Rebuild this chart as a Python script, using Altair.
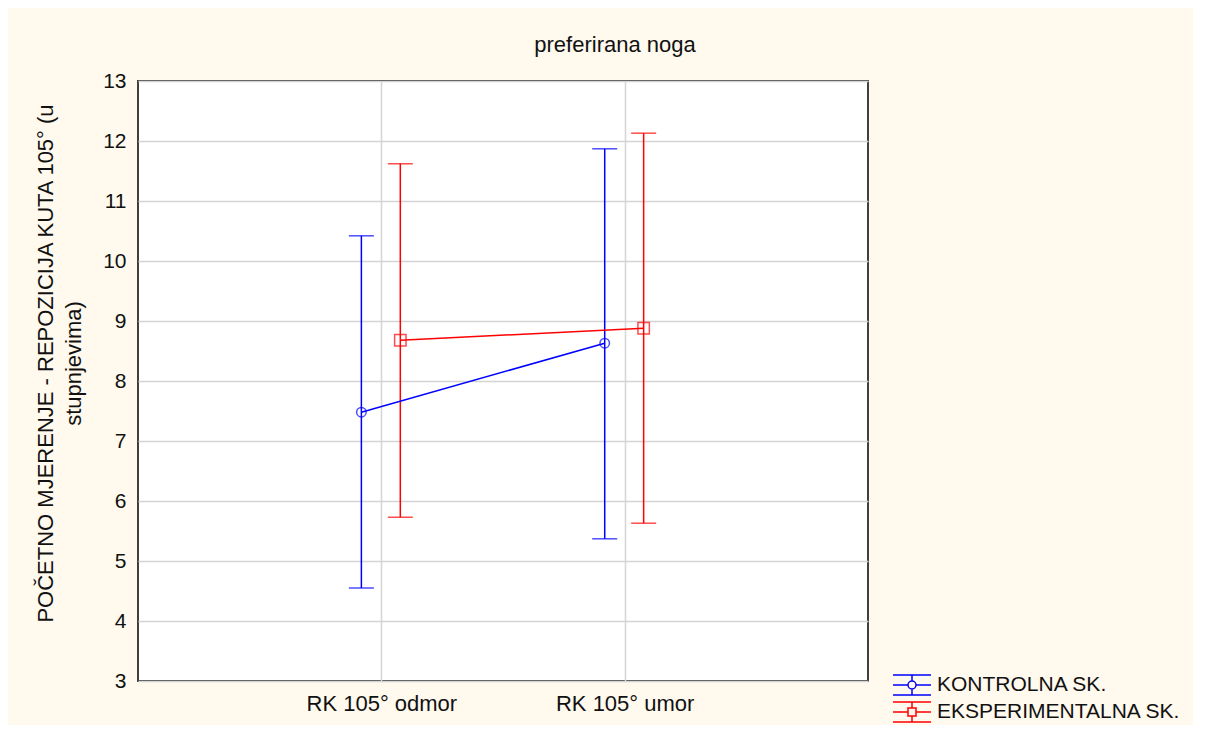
import altair as alt
import pandas as pd

# ---- data ----
categories = ["RK 105° odmor", "RK 105° umor"]
groups = ["KONTROLNA SK.", "EKSPERIMENTALNA SK."]
means_kontrolna = [7.48, 8.63]
lower_kontrolna = [4.55, 5.37]
upper_kontrolna = [10.42, 11.87]
means_eksp = [8.68, 8.88]
lower_eksp = [5.73, 5.63]
upper_eksp = [11.62, 12.13]
y_ticks = list(range(3, 14))

# ---- styling constants ----
FONT = "Liberation Sans"
BLUE = "#0000FF"
RED = "#FF0000"
BG = "#FFF9EE"
DODGE = {"KONTROLNA SK.": -0.082, "EKSPERIMENTALNA SK.": 0.078}

rows = []
for g, m, lo, up in [
    (groups[0], means_kontrolna, lower_kontrolna, upper_kontrolna),
    (groups[1], means_eksp, lower_eksp, upper_eksp),
]:
    for i, c in enumerate(categories):
        rows.append({"grupa": g, "kategorija": c, "idx": i + 1,
                     "pos": i + 1 + DODGE[g], "mean": m[i], "lower": lo[i], "upper": up[i]})
df = pd.DataFrame(rows)

label_expr = "datum.value == 1 ? '%s' : (datum.value == 2 ? '%s' : '')" % (categories[0], categories[1])

x = alt.X("pos:Q",
          scale=alt.Scale(domain=[0, 3], nice=False, zero=False),
          axis=alt.Axis(values=[1, 2], labelExpr=label_expr, title=None, ticks=False,
                        labelPadding=12, labelFontSize=22, grid=True))
y_axis = alt.Axis(values=y_ticks, format="d", ticks=False, labelPadding=12, labelFontSize=21,
                  title=["POČETNO MJERENJE - REPOZICIJA KUTA 105° (u", "stupnjevima)"],
                  titleFontSize=22, titleFontWeight="normal", titleLineHeight=28,
                  titleAngle=-90, titleAlign="center", titleBaseline="middle",
                  titleX=-93, titleY=282, grid=True)
y_scale = alt.Scale(domain=[3, 13], nice=False, zero=False)

leg = alt.Legend(symbolFillColor="transparent", labelLimit=0, symbolStrokeWidth=1.5)
color = alt.Color("grupa:N", scale=alt.Scale(domain=groups, range=[BLUE, RED]), title=None,
                  legend=leg)

base = alt.Chart(df)

bars = base.mark_rule(strokeWidth=1.5).encode(
    x=x, y=alt.Y("lower:Q", scale=y_scale, axis=y_axis), y2="upper:Q", color=color)
cap_lo = base.mark_tick(orient="horizontal", size=25, thickness=1.5).encode(
    x="pos:Q", y="lower:Q", color=color)
cap_hi = base.mark_tick(orient="horizontal", size=25, thickness=1.5).encode(
    x="pos:Q", y="upper:Q", color=color)
lines = base.mark_line(strokeWidth=1.5).encode(
    x="pos:Q", y="mean:Q", color=color, detail="grupa:N", order="idx:Q")
pts_c = base.transform_filter(alt.datum.grupa == groups[0]).mark_point(
    shape="circle", size=90, strokeWidth=1.5, filled=False).encode(
    x="pos:Q", y="mean:Q", color=color)
pts_s = base.transform_filter(alt.datum.grupa == groups[1]).mark_point(
    shape="square", size=130, strokeWidth=1.5, filled=False).encode(
    x="pos:Q", y="mean:Q", color=color)

# legend glyphs: error-bar with marker; marker outlines drawn twice in opposite
# directions so that any fill has zero winding (outline only)
bar_glyph = "M-1.9,-1H1.9M-1.9,1H1.9M-1.9,0H-0.4M0.4,0H1.9M0,-1V-0.4M0,0.4V1"
glyph_circle = (bar_glyph +
                "M0.4,0A0.4,0.4 0 1,1 -0.4,0A0.4,0.4 0 1,1 0.4,0"
                "M0.4,0A0.4,0.4 0 1,0 -0.4,0A0.4,0.4 0 1,0 0.4,0")
glyph_square = (bar_glyph +
                "M-0.4,-0.4H0.4V0.4H-0.4Z"
                "M-0.4,-0.4V0.4H0.4V-0.4Z")

legend_layer = base.transform_filter("false").mark_point(filled=False, strokeWidth=1.5).encode(
    x="pos:Q", y="mean:Q", color=color,
    shape=alt.Shape("grupa:N", scale=alt.Scale(domain=groups, range=[glyph_circle, glyph_square]),
                    title=None, legend=leg))

chart = alt.layer(bars, cap_lo, cap_hi, lines, pts_c, pts_s, legend_layer).properties(
    width=730, height=600,
    background=BG,
    padding={"left": 26, "top": 26, "right": 12, "bottom": 0},
    title=alt.TitleParams("preferirana noga", fontSize=22, fontWeight="normal", font=FONT,
                          color="#111111", anchor="middle", dx=112, offset=13),
).configure_view(
    stroke="#404040", strokeWidth=2, fill="white"
).configure_axis(
    labelFont=FONT, titleFont=FONT, labelColor="#111111", titleColor="#111111",
    gridColor="#D4D4D4", gridWidth=1.5, domain=False
).configure_legend(
    orient="none", legendX=763, legendY=593, padding=0,
    labelFont=FONT, labelFontSize=21, labelColor="#111111", labelOffset=14, labelLimit=0,
    symbolSize=400, symbolStrokeWidth=1.5, rowPadding=1, symbolOpacity=1
)

chart.save("out.html", embed_options={"renderer": "svg", "actions": False})
